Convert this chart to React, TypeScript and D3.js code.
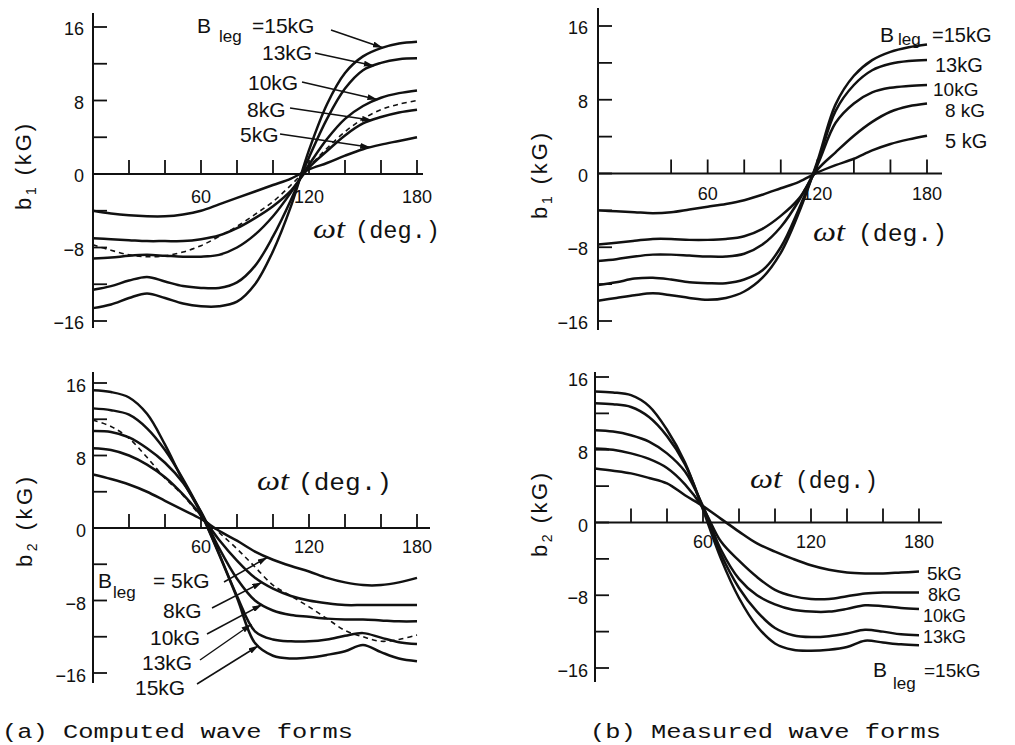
import React from "react";
import * as d3 from "d3";

// ---------- data ----------
const DEG = [0, 10, 20, 30, 40, 50, 60, 70, 80, 90, 100, 110, 120, 130, 140, 150, 160, 170, 180];
const Y_TICKS = [16, 12, 8, 4, 0, -4, -8, -12, -16];
const Y_TICK_LABELS = [16, 8, 0, -8, -16];
const X_TICK_LABELS = [60, 120, 180];
const X_TICKS_FULL = [20, 40, 60, 80, 100, 120, 140, 160, 180];
const X_TICKS_TOP_B = [40, 60, 80, 100, 120, 140, 160, 180];

// (a) computed, b1
const b1Comp5 = [-4.0, -4.3, -4.5, -4.6, -4.6, -4.4, -4.0, -3.3, -2.6, -1.9, -1.2, -0.5, 0.5, 1.2, 2.0, 2.7, 3.2, 3.6, 4.0];
const b1Comp8 = [-7.0, -7.1, -7.2, -7.3, -7.3, -7.3, -7.1, -6.7, -5.9, -4.8, -3.5, -1.8, 0.7, 2.5, 4.2, 5.5, 6.2, 6.7, 7.0];
const b1Comp10 = [-9.2, -9.1, -8.9, -8.8, -8.9, -9.0, -9.0, -8.8, -8.0, -6.6, -4.6, -2.0, 1.0, 3.8, 6.0, 7.4, 8.3, 8.8, 9.1];
const b1Comp13 = [-12.6, -12.2, -11.6, -11.2, -11.7, -12.2, -12.4, -12.4, -11.8, -10.0, -6.8, -2.8, 1.8, 6.0, 9.3, 11.3, 12.1, 12.5, 12.6];
const b1Comp15 = [-14.6, -14.2, -13.5, -13.0, -13.5, -14.1, -14.4, -14.4, -13.9, -12.0, -8.4, -3.5, 2.6, 7.6, 11.0, 12.8, 13.7, 14.2, 14.4];
const b1CompDash = [-7.7, -8.3, -8.8, -9.0, -8.9, -8.5, -7.8, -6.8, -5.7, -4.4, -3.0, -1.2, 0.8, 2.8, 4.6, 6.0, 7.0, 7.6, 8.0];

// (b) measured, b1
const b1Meas5 = [-4.0, -4.1, -4.2, -4.3, -4.2, -3.9, -3.6, -3.3, -2.9, -2.3, -1.6, -0.9, 0.1, 0.9, 1.6, 2.5, 3.2, 3.7, 4.1];
const b1Meas8 = [-7.7, -7.5, -7.3, -7.1, -7.1, -7.2, -7.2, -7.1, -6.8, -6.0, -4.6, -2.7, 0.4, 2.3, 4.1, 5.6, 6.7, 7.3, 7.6];
const b1Meas10 = [-9.5, -9.3, -9.0, -8.8, -8.8, -8.9, -9.0, -9.0, -8.7, -7.7, -5.8, -2.9, 0.9, 5.5, 7.6, 8.8, 9.3, 9.5, 9.6];
const b1Meas13 = [-12.1, -11.8, -11.4, -11.3, -11.5, -11.8, -11.9, -11.9, -11.5, -10.5, -8.0, -3.8, 1.1, 6.8, 9.6, 11.2, 11.9, 12.2, 12.3];
const b1Meas15 = [-13.8, -13.5, -13.2, -13.0, -13.2, -13.5, -13.7, -13.5, -12.8, -11.3, -8.6, -4.2, 1.3, 7.5, 10.6, 12.3, 13.2, 13.7, 14.0];

// (a) computed, b2
const b2Comp5 = [5.9, 5.4, 4.8, 4.0, 3.0, 2.0, 1.0, -0.3, -1.4, -2.6, -3.5, -4.2, -4.8, -5.5, -6.0, -6.3, -6.3, -6.0, -5.5];
const b2Comp8 = [8.8, 8.6, 8.0, 7.0, 5.6, 3.7, 1.4, -1.3, -3.6, -5.5, -6.7, -7.5, -8.0, -8.3, -8.5, -8.5, -8.5, -8.5, -8.5];
const b2Comp10 = [10.7, 10.6, 10.0, 8.8, 7.2, 5.0, 1.8, -2.2, -5.6, -8.0, -9.1, -9.6, -9.8, -10.0, -10.1, -10.1, -10.2, -10.3, -10.3];
const b2Comp13 = [13.2, 13.0, 12.5, 11.0, 8.6, 5.4, 1.7, -2.8, -7.5, -11.4, -12.3, -12.5, -12.5, -12.3, -11.9, -11.6, -12.1, -12.6, -12.8];
const b2Comp15 = [15.2, 15.0, 14.4, 12.6, 9.2, 5.2, 1.6, -2.9, -7.7, -12.7, -14.1, -14.4, -14.3, -14.0, -13.6, -12.9, -13.7, -14.4, -14.7];
const b2CompDash = [11.9, 11.2, 9.9, 7.8, 5.5, 3.6, 1.3, -0.5, -2.3, -4.3, -6.3, -7.5, -8.7, -10.0, -11.3, -12.0, -12.5, -12.3, -11.8];

// (b) measured, b2
const b2Meas5 = [5.95, 5.7, 5.4, 4.9, 4.3, 3.0, 1.8, 0.4, -1.0, -2.3, -3.2, -4.0, -4.7, -5.2, -5.5, -5.6, -5.6, -5.5, -5.4];
const b2Meas8 = [8.15, 8.0, 7.6, 7.0, 6.0, 4.2, 1.6, -2.1, -4.2, -6.0, -7.4, -8.1, -8.4, -8.4, -8.1, -7.8, -7.7, -7.7, -7.7];
const b2Meas10 = [10.15, 10.0, 9.6, 8.9, 7.6, 5.6, 1.8, -3.0, -6.2, -8.0, -9.0, -9.6, -9.8, -9.8, -9.5, -9.1, -9.2, -9.4, -9.5];
const b2Meas13 = [13.1, 13.0, 12.7, 11.6, 9.5, 6.4, 1.6, -3.5, -7.2, -9.8, -11.6, -12.4, -12.6, -12.5, -12.2, -11.8, -12.0, -12.3, -12.4];
const b2Meas15 = [14.4, 14.3, 14.0, 12.8, 10.2, 6.6, 1.4, -4.0, -8.3, -11.4, -13.3, -14.0, -14.1, -14.0, -13.7, -13.0, -13.2, -13.4, -13.5];

const CAPTION_A = "(a) Computed wave forms";
const CAPTION_B = "(b) Measured wave forms";

// ---------- drawing ----------
const INK = "#111";
const SANS = "'Liberation Sans', Arial, sans-serif";
const MONO = "'Liberation Mono', 'Courier New', monospace";
const SERIF = "'Liberation Serif', 'DejaVu Serif', serif";

type Note = {
  text: string;
  x: number;
  y: number;
  size?: number;
  leg?: { legDx: number; legDy: number; restDx: number; size?: number };
  from?: [number, number];
  deg?: number;
  s?: number;
};

type PanelProps = {
  xRange: [number, number];
  yRange: [number, number];
  yAxisExt: [number, number];
  xAxisEnd: number;
  xTicks: number[];
  yLabelX: number;
  yLabelDy: number;
  xLabelDy: number;
  sub: string;
  title: [number, number, number];
  wt: { x: number; x2: number; y: number; len: number };
  series: number[][];
  dashed?: number[];
  notes: Note[];
};

function Panel(p: PanelProps) {
  const x = d3.scaleLinear().domain([0, 180]).range(p.xRange);
  const y = d3.scaleLinear().domain([-16, 16]).range(p.yRange);
  const line = d3
    .line<number>()
    .x((_, i) => x(DEG[i]))
    .y((d) => y(d))
    .curve(d3.curveCatmullRom.alpha(0.5));
  const ax = x(0);
  const ay = y(0);
  const valAt = (arr: number[], deg: number) => d3.scaleLinear().domain(DEG).range(arr)(deg);

  return (
    <g>
      {/* axes */}
      <line x1={ax} x2={ax} y1={p.yAxisExt[0]} y2={p.yAxisExt[1]} stroke={INK} strokeWidth={2} />
      <line x1={ax} x2={p.xAxisEnd} y1={ay} y2={ay} stroke={INK} strokeWidth={2} />
      {Y_TICKS.map((v) => (
        <line key={"yt" + v} x1={ax} x2={ax + 14} y1={y(v)} y2={y(v)} stroke={INK} strokeWidth={1.8} />
      ))}
      {p.xTicks.map((v) => (
        <line key={"xt" + v} x1={x(v)} x2={x(v)} y1={ay} y2={ay - 14} stroke={INK} strokeWidth={1.8} />
      ))}
      {Y_TICK_LABELS.map((v) => (
        <text
          key={"yl" + v}
          x={p.yLabelX}
          y={y(v) + p.yLabelDy}
          textAnchor="end"
          fontFamily={SANS}
          fontSize={18}
          fill={INK}
        >
          {v < 0 ? "\u2212" + Math.abs(v) : String(v)}
        </text>
      ))}
      {X_TICK_LABELS.map((v) => (
        <text
          key={"xl" + v}
          x={x(v)}
          y={ay + p.xLabelDy}
          textAnchor="middle"
          fontFamily={SANS}
          fontSize={18}
          fill={INK}
        >
          {v}
        </text>
      ))}
      {/* y title */}
      <text
        transform={`translate(${p.title[0]},${p.title[1]}) rotate(-90)`}
        textAnchor="middle"
        fontFamily={SANS}
        fontSize={22}
        fill={INK}
        textLength={p.title[2]}
        lengthAdjust="spacing"
      >
        b
        <tspan fontSize={14} dy={5}>
          {p.sub}
        </tspan>
        <tspan dy={-5}> (kG)</tspan>
      </text>
      {/* x title */}
      <text
        x={p.wt.x}
        y={p.wt.y}
        fontFamily={SERIF}
        fontStyle="italic"
        fontSize={28}
        fill={INK}
        textLength={32}
        lengthAdjust="spacingAndGlyphs"
      >
        ωt
      </text>
      <text
        x={p.wt.x2}
        y={p.wt.y}
        fontFamily={MONO}
        fontSize={24}
        fill={INK}
        textLength={p.wt.len}
        lengthAdjust="spacingAndGlyphs"
      >
        (deg.)
      </text>
      {/* curves */}
      {p.series.map((s, i) => (
        <path key={"c" + i} d={line(s) || ""} fill="none" stroke={INK} strokeWidth={2.5} strokeLinejoin="round" />
      ))}
      {p.dashed && (
        <path d={line(p.dashed) || ""} fill="none" stroke={INK} strokeWidth={1.6} strokeDasharray="5 4" />
      )}
      {/* annotations */}
      {p.notes.map((n, i) => (
        <g key={"n" + i}>
          {n.leg ? (
            <>
              <text x={n.x} y={n.y} fontFamily={SANS} fontSize={21} fill={INK}>
                B
              </text>
              <text x={n.x + n.leg.legDx} y={n.y + n.leg.legDy} fontFamily={SANS} fontSize={17} fill={INK}>
                leg
              </text>
              <text x={n.x + n.leg.restDx} y={n.y} fontFamily={SANS} fontSize={n.leg.size || 21} fill={INK}>
                {n.text}
              </text>
            </>
          ) : (
            <text x={n.x} y={n.y} fontFamily={SANS} fontSize={n.size || 21} fill={INK}>
              {n.text}
            </text>
          )}
          {n.from && n.deg !== undefined && n.s !== undefined && (
            <line
              x1={n.from[0]}
              y1={n.from[1]}
              x2={x(n.deg)}
              y2={y(valAt(p.series[n.s], n.deg))}
              stroke={INK}
              strokeWidth={1.5}
              markerEnd="url(#arrow)"
            />
          )}
        </g>
      ))}
    </g>
  );
}

export default function App() {
  return (
    <svg
      width={1015}
      height={745}
      viewBox="0 0 1015 745"
      style={{ position: "absolute", left: 0, top: 0, background: "#fff", display: "block" }}
    >
      <defs>
        <marker
          id="arrow"
          viewBox="0 0 10 6"
          refX={10}
          refY={3}
          markerWidth={10}
          markerHeight={6}
          markerUnits="userSpaceOnUse"
          orient="auto"
        >
          <path d="M0,0 L10,3 L0,6 Z" fill={INK} />
        </marker>
      </defs>
      <rect x={0} y={0} width={1015} height={745} fill="#fff" />

      {/* (a) top: b1 computed */}
      <Panel
        xRange={[93, 417]}
        yRange={[321, 27]}
        yAxisExt={[13, 328]}
        xAxisEnd={423}
        xTicks={X_TICKS_FULL}
        yLabelX={84}
        yLabelDy={8}
        xLabelDy={29}
        sub="1"
        title={[31, 167, 86]}
        wt={{ x: 313, x2: 355, y: 238, len: 85 }}
        series={[b1Comp5, b1Comp8, b1Comp10, b1Comp13, b1Comp15]}
        dashed={b1CompDash}
        notes={[
          { text: "=15kG", x: 197, y: 33, leg: { legDx: 22, legDy: 9, restDx: 55 }, from: [331, 30], deg: 161, s: 4 },
          { text: "13kG", x: 262, y: 60, from: [315, 53], deg: 156, s: 3 },
          { text: "10kG", x: 248, y: 90, from: [302, 82], deg: 158, s: 2 },
          { text: "8kG", x: 247, y: 117, from: [290, 108], deg: 155, s: 1 },
          { text: "5kG", x: 240, y: 142, from: [280, 134], deg: 154, s: 0 },
        ]}
      />

      {/* (b) top: b1 measured */}
      <Panel
        xRange={[598, 927]}
        yRange={[321, 26]}
        yAxisExt={[8, 330]}
        xAxisEnd={942}
        xTicks={X_TICKS_TOP_B}
        yLabelX={588}
        yLabelDy={8}
        xLabelDy={26}
        sub="1"
        title={[547, 176, 86]}
        wt={{ x: 813, x2: 858, y: 241, len: 89 }}
        series={[b1Meas5, b1Meas8, b1Meas10, b1Meas13, b1Meas15]}
        notes={[
          { text: "=15kG", x: 880, y: 42, leg: { legDx: 18, legDy: 3, restDx: 52, size: 20 } },
          { text: "13kG", x: 935, y: 72, size: 20 },
          { text: "10kG", x: 933, y: 96, size: 19 },
          { text: "8 kG", x: 945, y: 117, size: 19 },
          { text: "5 kG", x: 945, y: 148, size: 20 },
        ]}
      />

      {/* (a) bottom: b2 computed */}
      <Panel
        xRange={[93, 417]}
        yRange={[673, 383]}
        yAxisExt={[372, 683]}
        xAxisEnd={430}
        xTicks={X_TICKS_FULL}
        yLabelX={86}
        yLabelDy={9}
        xLabelDy={25}
        sub="2"
        title={[32, 522, 90]}
        wt={{ x: 257, x2: 298, y: 490, len: 94 }}
        series={[b2Comp5, b2Comp8, b2Comp10, b2Comp13, b2Comp15]}
        dashed={b2CompDash}
        notes={[
          { text: "= 5kG", x: 98, y: 588, leg: { legDx: 15, legDy: 10, restDx: 55 }, from: [224, 582], deg: 97, s: 0 },
          { text: "8kG", x: 163, y: 618, from: [212, 608], deg: 94, s: 1 },
          { text: "10kG", x: 150, y: 645, from: [207, 634], deg: 94, s: 2 },
          { text: "13kG", x: 142, y: 670, from: [200, 660], deg: 88, s: 3 },
          { text: "15kG", x: 135, y: 695, from: [197, 684], deg: 92, s: 4 },
        ]}
      />

      {/* (b) bottom: b2 measured */}
      <Panel
        xRange={[595, 919]}
        yRange={[668, 377]}
        yAxisExt={[372, 682]}
        xAxisEnd={942}
        xTicks={X_TICKS_FULL}
        yLabelX={588}
        yLabelDy={9}
        xLabelDy={25}
        sub="2"
        title={[547, 515, 84]}
        wt={{ x: 750, x2: 795, y: 488, len: 83 }}
        series={[b2Meas5, b2Meas8, b2Meas10, b2Meas13, b2Meas15]}
        notes={[
          { text: "5kG", x: 927, y: 580, size: 19 },
          { text: "8kG", x: 928, y: 601, size: 18 },
          { text: "10kG", x: 923, y: 622, size: 18 },
          { text: "13kG", x: 923, y: 643, size: 18 },
          { text: "=15kG", x: 873, y: 677, leg: { legDx: 20, legDy: 12, restDx: 51, size: 19 } },
        ]}
      />

      {/* captions */}
      <text x={2} y={738} fontFamily={MONO} fontSize={20} fill={INK} textLength={351} lengthAdjust="spacingAndGlyphs">
        {CAPTION_A}
      </text>
      <text x={590} y={738} fontFamily={MONO} fontSize={20} fill={INK} textLength={351} lengthAdjust="spacingAndGlyphs">
        {CAPTION_B}
      </text>
    </svg>
  );
}
